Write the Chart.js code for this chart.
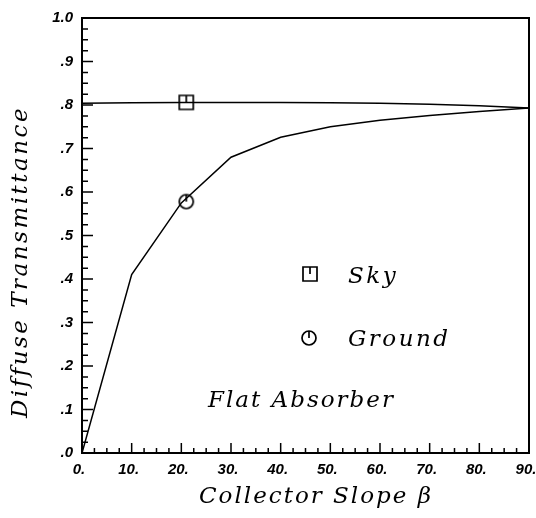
<!DOCTYPE html>
<html>
<head>
<meta charset="utf-8">
<script src="https://cdn.jsdelivr.net/npm/chart.js@4.4.1/dist/chart.umd.min.js"></script>
<style>
  html, body { margin: 0; padding: 0; background: #fff; }
  #wrap { width: 536px; height: 518px; }
</style>
</head>
<body>
<div id="wrap"><canvas id="chart" width="536" height="518"></canvas></div>
<script>
// values
const slopes = [0, 10, 20, 30, 40, 50, 60, 70, 80, 90];
const skyValues = [0.804, 0.805, 0.806, 0.806, 0.806, 0.805, 0.804, 0.802, 0.798, 0.793];
const groundValues = [0, 0.41, 0.575, 0.68, 0.726, 0.75, 0.765, 0.776, 0.785, 0.793];
const markerSlope = [21];
const skyMarker = [0.806];
const groundMarker = [0.578];
const legendLabels = ['Sky', 'Ground'];
const noteText = 'Flat Absorber';
const xTitle = 'Collector Slope \u03b2';
const yTitle = 'Diffuse Transmittance';

const makeMarker = (shape) => {
    const c = document.createElement('canvas');
    c.width = 18; c.height = 18;
    const g = c.getContext('2d');
    g.strokeStyle = '#000';
    g.lineWidth = 1.7;
    g.beginPath();
    if (shape === 'square') {
        g.rect(2, 2, 14, 14);
    } else {
        g.arc(9, 9, 7, 0, Math.PI * 2);
    }
    g.moveTo(9, 2);
    g.lineTo(9, 9);
    g.stroke();
    return c;
};
const squareMark = makeMarker('square');
const circleMark = makeMarker('circle');

const toPts = (xs, ys) => xs.map((x, i) => ({ x: x, y: ys[i] }));

const textFont = 'italic 23px "DejaVu Serif"';

const decorations = {
    id: 'decorations',
    afterDraw(chart) {
        const ctx = chart.ctx;
        const xs = chart.scales.x;
        const ys = chart.scales.y;
        const area = chart.chartArea;
        ctx.save();
        ctx.strokeStyle = '#000';

        // frame top + right
        ctx.lineWidth = 2;
        ctx.beginPath();
        ctx.moveTo(area.left, area.top);
        ctx.lineTo(area.right, area.top);
        ctx.lineTo(area.right, area.bottom);
        ctx.stroke();

        // inward tick marks
        ctx.lineWidth = 1.5;
        ctx.beginPath();
        for (let v = 0; v <= 90; v += 2.5) {
            const px = xs.getPixelForValue(v);
            const len = v % 10 === 0 ? 10 : 5;
            ctx.moveTo(px, area.bottom);
            ctx.lineTo(px, area.bottom - len);
        }
        for (let i = 0; i <= 40; i++) {
            const py = ys.getPixelForValue(i * 0.025);
            const len = i % 4 === 0 ? 11 : 6;
            ctx.moveTo(area.left, py);
            ctx.lineTo(area.left + len, py);
        }
        ctx.stroke();

        // texts
        ctx.fillStyle = '#000';
        ctx.font = textFont;
        ctx.letterSpacing = '2.5px';
        ctx.textBaseline = 'middle';
        ctx.textAlign = 'left';

        ctx.drawImage(squareMark, 301, 265);
        ctx.fillText(legendLabels[0], 348, 277);
        ctx.drawImage(circleMark, 300, 329);
        ctx.fillText(legendLabels[1], 348, 340);

        ctx.letterSpacing = '2px';
        ctx.fillText(noteText, 208, 401);

        ctx.textAlign = 'center';
        ctx.fillText(xTitle, 316, 497);

        ctx.translate(21, 262);
        ctx.rotate(-Math.PI / 2);
        ctx.letterSpacing = '2.5px';
        ctx.fillText(yTitle, 0, 0);
        ctx.restore();
    }
};

const tickFont = { family: '"Liberation Sans"', size: 15, style: 'italic', weight: 'bold' };

new Chart(document.getElementById('chart').getContext('2d'), {
    type: 'scatter',
    data: {
        datasets: [
            {
                data: toPts(slopes, skyValues),
                showLine: true,
                borderColor: '#000',
                borderWidth: 1.5,
                pointRadius: 0,
                tension: 0
            },
            {
                data: toPts(slopes, groundValues),
                showLine: true,
                borderColor: '#000',
                borderWidth: 1.5,
                pointRadius: 0,
                tension: 0
            },
            {
                data: toPts(markerSlope, skyMarker),
                pointStyle: squareMark,
                showLine: false
            },
            {
                data: toPts(markerSlope, groundMarker),
                pointStyle: circleMark,
                showLine: false
            }
        ]
    },
    options: {
        responsive: false,
        animation: false,
        layout: { padding: { top: 18, right: 7, left: 0, bottom: 0 } },
        plugins: {
            legend: { display: false },
            tooltip: { enabled: false }
        },
        scales: {
            x: {
                type: 'linear',
                min: 0,
                max: 90,
                afterFit: (s) => { s.height = 65; s.paddingLeft = 0; s.paddingRight = 0; },
                grid: { display: false, drawTicks: false },
                border: { display: true, color: '#000', width: 2 },
                ticks: {
                    stepSize: 10,
                    color: '#000',
                    font: tickFont,
                    padding: 8,
                    labelOffset: -3,
                    maxRotation: 0,
                    callback: (v) => v + '.'
                }
            },
            y: {
                min: 0,
                max: 1,
                afterFit: (s) => { s.width = 82; s.paddingTop = 0; s.paddingBottom = 0; },
                grid: { display: false, drawTicks: false },
                border: { display: true, color: '#000', width: 2 },
                ticks: {
                    stepSize: 0.1,
                    color: '#000',
                    font: tickFont,
                    padding: 9,
                    callback: (v) => {
                        const s = v.toFixed(1);
                        return s === '1.0' ? s : s.replace(/^0/, '');
                    }
                }
            }
        }
    },
    plugins: [decorations]
});
</script>
</body>
</html>
